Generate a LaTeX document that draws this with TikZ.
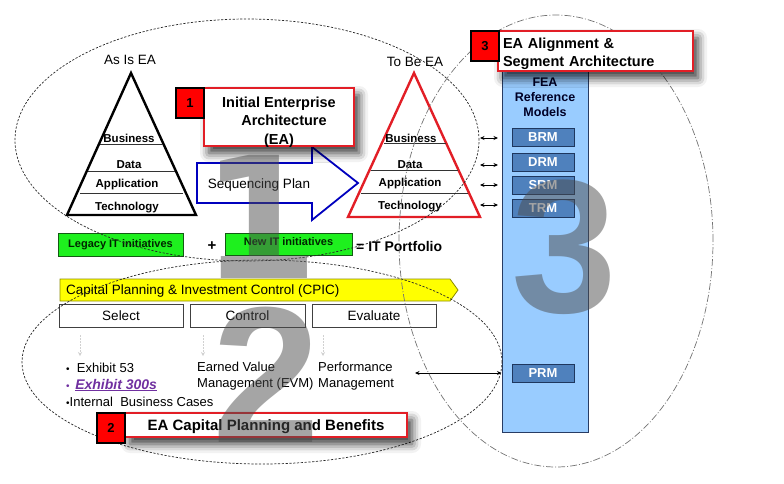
\documentclass[tikz,border=0pt]{standalone}
\usepackage{fontspec}
\setmainfont{Liberation Sans}
\newfontfamily\numfontA{DejaVu Sans}
\newfontfamily\numfontB{Liberation Sans}
\usetikzlibrary{shadows.blur,arrows.meta}
\definecolor{eared}{RGB}{226,30,38}
\definecolor{fea}{RGB}{153,204,255}
\definecolor{feaborder}{RGB}{40,60,100}
\definecolor{rmfill}{RGB}{79,129,189}
\definecolor{rmborder}{RGB}{30,55,95}
\definecolor{itgreen}{RGB}{30,240,30}
\definecolor{itgreenborder}{RGB}{20,90,20}
\definecolor{cpicyellow}{RGB}{255,255,0}
\definecolor{cpicborder}{RGB}{140,140,0}
\definecolor{exhpurple}{RGB}{112,48,160}
\definecolor{seqblue}{RGB}{0,0,190}
\newcommand{\fsz}[1]{\fontsize{#1}{1.2\dimexpr #1pt\relax}\selectfont}
\begin{document}
\begin{tikzpicture}[x=1pt,y=-1pt,
  redsq/.style={fill=red,draw=black,line width=1.2pt,minimum width=28pt,minimum height=30pt,inner sep=0pt,font=\bfseries\fsz{13}},
  redbox/.style={draw=eared,line width=1.6pt,fill=white,inner sep=0pt,
     blur shadow={shadow xshift=5pt,shadow yshift=-7pt,shadow blur radius=9pt,shadow opacity=80}},
  rmbox/.style={fill=rmfill,draw=rmborder,line width=0.8pt,text=white,font=\bfseries\fsz{13},minimum width=62pt,minimum height=18pt,inner sep=0pt},
  greenbox/.style={fill=itgreen,draw=itgreenborder,line width=0.8pt,font=\bfseries\fsz{11},text=black!85!green,inner sep=0pt},
  phasebox/.style={draw=black!75,line width=0.8pt,fill=white,minimum width=124pt,minimum height=23pt,inner sep=0pt,font=\fsz{13.5}},
  lbl/.style={font=\bfseries\fsz{11.5},inner sep=0pt},
  txt/.style={font=\fsz{13},inner sep=0pt},
  dbl/.style={{Stealth[length=4.5pt,width=4pt]}-{Stealth[length=4.5pt,width=4pt]},line width=0.8pt},
  faint/.style={-{Stealth[length=4pt,width=4pt]},draw=black!18,line width=0.8pt,dash pattern=on 2pt off 1pt},
  bignum/.style={text=black!70,opacity=0.5,inner sep=0pt,anchor=base}
]
\useasboundingbox (0,0) rectangle (784,483);

% ---------- FEA column ----------
\node[draw=feaborder,fill=fea,line width=1pt,minimum width=86pt,minimum height=367pt,inner sep=0pt] (col) at (545,248.5) {};
\node[font=\bfseries\fsz{12.5},text=black!85!blue,align=center,inner sep=0pt] (feat) at (545,97) {FEA\\Reference\\Models};
\node[rmbox] (brm) at (543,137.5) {BRM};
\node[rmbox] (drm) at (543,162.5) {DRM};
\node[rmbox] (srm) at (543,185) {SRM};
\node[rmbox] (trm) at (543,208) {TRM};
\node[rmbox] (prm) at (543,373) {PRM};

% ---------- As Is triangle ----------
\node[txt,font=\fsz{13.5}] (asis) at (130,60) {As Is EA};
\coordinate (a1) at (131,73); \coordinate (a2) at (196,215); \coordinate (a3) at (67,215);
\draw[line width=2.4pt,line join=miter] (a1) -- (a2) -- (a3) -- cycle;
\draw[line width=0.8pt,black!80] (100,144) -- (163,144);
\draw[line width=0.8pt,black!80] (88,171) -- (175,171);
\draw[line width=0.8pt,black!80] (80,193) -- (183,193);
\node[lbl] (ab) at (129,138) {Business};
\node[lbl] (ad) at (129,165) {Data};
\node[lbl] (aa) at (127,185) {Application};
\node[lbl] (at) at (127,208) {Technology};

% ---------- To Be triangle ----------
\node[txt,font=\fsz{13.5}] (tobe) at (415,62) {To Be EA};
\coordinate (t1) at (414,73); \coordinate (t2) at (480,217); \coordinate (t3) at (348,217);
\draw[eared,line width=2.4pt,line join=miter] (t1) -- (t2) -- (t3) -- cycle;
\draw[line width=0.8pt,black!80] (384,143) -- (446,143);
\draw[line width=0.8pt,black!80] (371,170) -- (458,170);
\draw[line width=0.8pt,black!80] (361,193) -- (468,193);
\node[lbl] (tb) at (411,138) {Business};
\node[lbl] (td) at (410,165) {Data};
\node[lbl] (ta) at (410,184) {Application};
\node[lbl] (tt) at (410,207) {Technology};

% double arrows triangle <-> column
\coordinate (d1) at (480,138); \coordinate (e1) at (498,138);
\coordinate (d2) at (480,165); \coordinate (e2) at (498,165);
\coordinate (d3) at (480,185); \coordinate (e3) at (498,185);
\coordinate (d4) at (480,205); \coordinate (e4) at (498,205);
\draw[dbl] (d1) -- (e1);
\draw[dbl] (d2) -- (e2);
\draw[dbl] (d3) -- (e3);
\draw[dbl] (d4) -- (e4);

% ---------- Sequencing plan arrow ----------
\draw[seqblue,line width=1.8pt,line join=miter,fill=white] (197,163) -- (312,163) -- (312,147) -- (358,183) -- (312,220) -- (312,203) -- (197,203) -- cycle;
\node[txt,font=\fsz{13.5}] (seq) at (259,185) {Sequencing Plan};

% ---------- IT portfolio ----------
\node[greenbox,minimum width=125pt,minimum height=23pt] (legacy) at (120.5,244.5) {Legacy IT initiatives};
\node[font=\bfseries\fsz{15},inner sep=0pt] (plus) at (212,246) {+};
\node[greenbox,minimum width=127pt,minimum height=22pt] (newit) at (288.5,244) {\raisebox{2pt}[\height][\depth]{New IT initiatives}};
\node[font=\bfseries\fsz{14},inner sep=0pt,anchor=west] (portf) at (356,246) {= IT Portfolio};

% ---------- CPIC ----------
\draw[fill=cpicyellow,draw=cpicborder,line width=0.8pt] (60,279) -- (450,279) -- (458,290) -- (450,301) -- (60,301) -- cycle;
\node[font=\fsz{13.5},inner sep=0pt,anchor=west] (cpic) at (66,291) {Capital Planning \& Investment Control (CPIC)};
\node[phasebox] (sel) at (121,315.5) {Select};
\node[phasebox,minimum width=115pt] (ctl) at (247.5,315.5) {Control};
\node[phasebox] (evl) at (374,315.5) {Evaluate};
\coordinate (f1) at (80,335); \coordinate (g1) at (80,356);
\coordinate (f2) at (203,335); \coordinate (g2) at (203,356);
\coordinate (f3) at (323,335); \coordinate (g3) at (323,356);
\draw[faint] (f1) -- (g1);
\draw[faint] (f2) -- (g2);
\draw[faint] (f3) -- (g3);

% lists
\node[txt,anchor=west] (ex53) at (66,368) {\fsz{10}\textbullet\fsz{13}\ \ Exhibit 53};
\node[txt,anchor=west,text=exhpurple] (ex300) at (66,385) {\fsz{10}\textbullet\ \ \bfseries\itshape\fsz{14}\underline{Exhibit 300s}};
\node[txt,anchor=west] (ibc) at (66,402) {\fsz{10}\textbullet\fsz{13}Internal\ \ Business Cases};
\node[txt,anchor=west,align=left] (evm) at (197,376) {Earned Value\\Management (EVM)};
\node[txt,anchor=west,align=left] (perf) at (318,376) {Performance\\Management};
\coordinate (pe) at (415,373);
\draw[dbl] (pe) -- (col.west |- prm.center);

% ---------- ellipses ----------
\draw[black!85,line width=0.7pt,dash pattern=on 2.2pt off 1.6pt] (247,140) ellipse [x radius=232pt, y radius=121pt];
\draw[black!85,line width=0.7pt,dash pattern=on 2.2pt off 1.6pt] (262,362) ellipse [x radius=240pt, y radius=102pt];
\draw[black!55,line width=0.7pt,dash pattern=on 7pt off 2pt on 1pt off 2pt] (556,241) ellipse [x radius=157pt, y radius=226pt];

% ---------- numbered boxes ----------
\node[redbox,minimum width=195pt,minimum height=40pt,align=left,text width=185pt,font=\bfseries\fsz{14.5}] (b3) at (595.5,51) {\raisebox{-3pt}[\height][\depth]{EA Alignment \&}\\[0.5pt]\raisebox{-3pt}[\height][\depth]{Segment Architecture}};
\node[redsq] (s3) at (485,46) {3};

\node[redbox,minimum width=150pt,minimum height=58pt,align=center,font=\bfseries\fsz{14.5}] (b1) at (279,117) {\raisebox{-5pt}[\height][\depth]{\parbox{150pt}{\centering Initial Enterprise\\[1pt]\hspace*{10pt}Architecture\\[1pt](EA)}}};
\node[redsq] (s1) at (190,103) {1};

\node[redbox,minimum width=282pt,minimum height=24pt,font=\bfseries\fsz{15}] (b2) at (266,425) {\raisebox{-1.5pt}[\height][\depth]{EA Capital Planning and Benefits}};
\node[redsq] (s2) at (111,428) {2};

% ---------- big watermark numerals ----------
\node[bignum,font=\numfontA\bfseries\fsz{169}] (n1) at (260,278) {1};
\node[bignum,font=\numfontB\bfseries\fsz{194}] (n2) at (266,442) {2};
\node[bignum,font=\numfontB\bfseries\fsz{190}] (n3) at (564,312) {3};
\end{tikzpicture}
\end{document}
